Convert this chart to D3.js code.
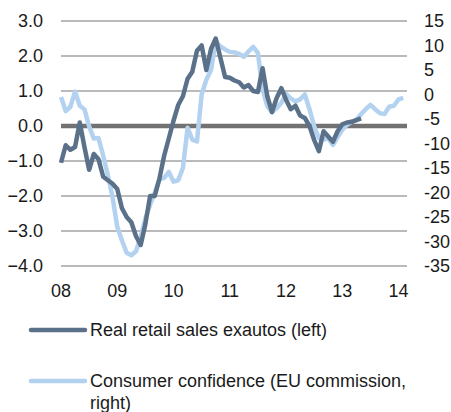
<!DOCTYPE html>
<head>
<meta charset="utf-8">
<style>
body {
  margin: 0;
  background: #fff;
}
svg {
  display: block;
}
.tick-label {
  font: 18px "Liberation Sans", Arial, sans-serif;
  fill: #1a1a1a;
}
.legend-label {
  font: 18px "Liberation Sans", Arial, sans-serif;
  fill: #1a1a1a;
}
</style>
</head>
<body>
<svg width="451" height="412"></svg>
<script src="https://d3js.org/d3.v7.min.js"></script>
<script>
// monthly, starting Jan 2008
var startYear = 2008;

// real retail sales ex autos, left axis
var retail = [-1.05, -0.55, -0.68, -0.6, 0.1, -0.6, -1.25, -0.8, -0.95, -1.45, -1.55, -1.65,
  -1.8, -2.35, -2.6, -2.75, -3.15, -3.4, -2.8, -2.0, -2.0, -1.5, -0.85, -0.35,
  0.15, 0.6, 0.85, 1.35, 1.55, 2.15, 2.3, 1.6, 2.2, 2.5, 1.95, 1.4,
  1.38, 1.3, 1.25, 1.1, 1.17, 1.0, 0.97, 1.65, 0.85, 0.4, 0.8, 1.08,
  0.75, 0.48, 0.58, 0.3, 0.23, 0.0, -0.4, -0.72, -0.15, -0.3, -0.45, -0.15,
  0.05, 0.1, 0.12, 0.17, 0.22];

// consumer confidence (EU commission), right axis
var confidence = [-0.5, -3.4, -2.5, 0.6, -2.3, -3.0, -6.5, -9.0, -8.9, -12.5, -16.5, -21,
  -27, -29.8, -32.3, -32.8, -32.0, -29, -25.3, -22.5, -20, -17.3, -17.0, -15.8,
  -17.8, -17.5, -15, -6.8, -9.2, -9.6, 0, 3, 5.0, 10.8, 9.8, 9.2,
  8.7, 8.6, 8.3, 7.7, 8.8, 9.7, 8.5, 1.0, -2.4, -3.6, -2.8, -1.7,
  0.1, -0.8, -1.4, -1.0, 0.0, -3.0, -6.5, -8.9, -9.2, -8.9, -10.3, -8.7,
  -7.2, -6.2, -5.6, -5.2, -4.0, -3.0, -2.1, -3.0, -3.8, -4.0, -2.5, -2.3,
  -1.0, -0.7];

var leftTicks = [3, 2, 1, 0, -1, -2, -3, -4];
var rightTicks = [15, 10, 5, 0, -5, -10, -15, -20, -25, -30, -35];
var yearTicks = [2008, 2009, 2010, 2011, 2012, 2013, 2014];
var legendNames = ["Real retail sales exautos (left)", "Consumer confidence (EU commission,|right)"];

var darkColor = "#5a7189",
    lightColor = "#b3d2f0";

var svg = d3.select("svg");

var x = d3.scaleLinear().domain([2008, 2014.15]).range([61, 407]);
var yLeft = d3.scaleLinear().domain([-4, 3]).range([266, 21]);
var yRight = d3.scaleLinear().domain([-35, 15]).range([266, 21]);

// gridlines
svg.append("g").selectAll("line")
  .data(leftTicks.filter(function(d) { return d !== 0; }))
  .enter().append("line")
    .attr("x1", x.range()[0]).attr("x2", x.range()[1])
    .attr("y1", function(d) { return yLeft(d); })
    .attr("y2", function(d) { return yLeft(d); })
    .attr("stroke", "#a3a3a3")
    .attr("stroke-width", 1.5);

svg.append("line")
  .attr("x1", x.range()[0]).attr("x2", x.range()[1])
  .attr("y1", yLeft(0)).attr("y2", yLeft(0))
  .attr("stroke", "#727272")
  .attr("stroke-width", 4.5);

// left labels
svg.append("g").selectAll("text")
  .data(leftTicks)
  .enter().append("text")
    .attr("class", "tick-label")
    .attr("x", 43)
    .attr("y", function(d) { return yLeft(d); })
    .attr("dy", "0.36em")
    .attr("text-anchor", "end")
    .text(function(d) { return d3.format(".1f")(d); });

// right labels
svg.append("g").selectAll("text")
  .data(rightTicks)
  .enter().append("text")
    .attr("class", "tick-label")
    .attr("x", 424)
    .attr("y", function(d) { return yRight(d); })
    .attr("dy", "0.36em")
    .text(function(d) { return d; });

// year labels
svg.append("g").selectAll("text")
  .data(yearTicks)
  .enter().append("text")
    .attr("class", "tick-label")
    .attr("x", function(d) { return x(d); })
    .attr("y", 297)
    .attr("text-anchor", "middle")
    .text(function(d) { return String(d).slice(2); });

var lineLeft = d3.line()
  .x(function(d, i) { return x(startYear + i / 12); })
  .y(function(d) { return yLeft(d); });
var lineRight = d3.line()
  .x(function(d, i) { return x(startYear + i / 12); })
  .y(function(d) { return yRight(d); });

svg.append("path")
  .datum(confidence)
  .attr("d", lineRight)
  .attr("fill", "none")
  .attr("stroke", lightColor)
  .attr("stroke-width", 4.5)
  .attr("stroke-linejoin", "round");

svg.append("path")
  .datum(retail)
  .attr("d", lineLeft)
  .attr("fill", "none")
  .attr("stroke", darkColor)
  .attr("stroke-width", 4.5)
  .attr("stroke-linejoin", "round");

// legend
var legend = svg.append("g").selectAll("g")
  .data(legendNames)
  .enter().append("g")
    .attr("transform", function(d, i) { return "translate(0," + (330 + i * 51) + ")"; });

legend.append("line")
  .attr("x1", 31).attr("x2", 85)
  .attr("stroke", function(d, i) { return i === 0 ? darkColor : lightColor; })
  .attr("stroke-width", 4.5)
  .attr("stroke-linecap", "round");

legend.append("text")
  .attr("class", "legend-label")
  .attr("x", 90)
  .attr("y", 0)
  .each(function(d) {
    var t = d3.select(this);
    d.split("|").forEach(function(s, j) {
      t.append("tspan").attr("x", 90).attr("dy", j === 0 ? "0.36em" : 21.5).text(s);
    });
  });
</script>
</body>
